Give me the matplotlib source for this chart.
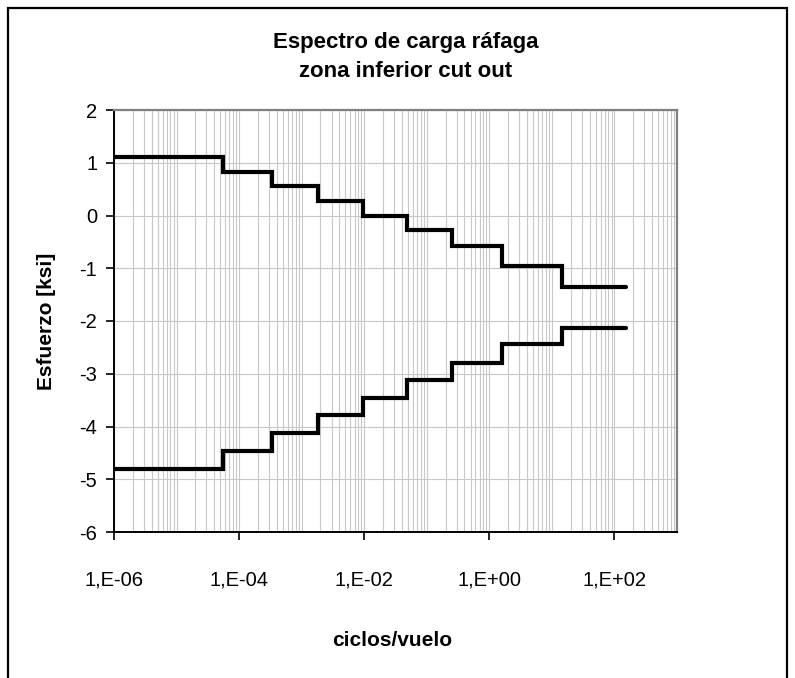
import numpy as np
import matplotlib
matplotlib.use("Agg")
import matplotlib.pyplot as plt
from matplotlib.patches import Rectangle
from matplotlib.ticker import FixedLocator, FuncFormatter

# step edges (ciclos/vuelo) shared by both curves
x_edges = [1e-6, 5.5e-5, 3.4e-4, 1.8e-3, 9.5e-3, 0.048, 0.256, 1.58, 14.4, 152]
# stress levels [ksi]
upper = [1.10, 0.83, 0.55, 0.28, 0.0, -0.27, -0.58, -0.96, -1.35]
lower = [-4.80, -4.47, -4.12, -3.78, -3.46, -3.12, -2.80, -2.43, -2.13]

x_ticks = [1e-6, 1e-4, 1e-2, 1e0, 1e2]
y_ticks = [2, 1, 0, -1, -2, -3, -4, -5, -6]

plt.rcParams["font.family"] = ["Liberation Sans", "DejaVu Sans"]

W, H = 795, 678
fig = plt.figure(figsize=(W / 100, H / 100), dpi=100)
ax = fig.add_axes([114 / W, 1 - 532 / H, (677 - 114) / W, (532 - 110) / H])

ax.set_xscale("log")
ax.set_xlim(1e-6, 1e3)
ax.set_ylim(-6, 2)

# gridlines: every decade plus 2..9 inside each one
grid_x = []
for d in range(-6, 3):
    for m in range(1, 10):
        grid_x.append(m * 10.0 ** d)
for gx in grid_x:
    ax.axvline(gx, color="#c8c8c8", lw=0.8, zorder=1)
for gy in y_ticks:
    ax.axhline(gy, color="#c8c8c8", lw=0.8, zorder=1)

for lev in (upper, lower):
    ax.step(x_edges, lev + [lev[-1]], where="post", color="black", lw=3.0,
            solid_capstyle="round", solid_joinstyle="miter", zorder=3)

ax.xaxis.set_major_locator(FixedLocator(x_ticks))
ax.xaxis.set_minor_locator(FixedLocator([]))
ax.xaxis.set_major_formatter(FuncFormatter(lambda v, p: "1,E%+03d" % int(round(np.log10(v)))))
ax.set_yticks(y_ticks)
ax.yaxis.set_major_formatter(FuncFormatter(lambda v, p: "%d" % v))
ax.tick_params(axis="both", direction="out", length=6, width=1.2, labelsize=14.5, color="black")
ax.tick_params(axis="x", pad=22)
ax.tick_params(axis="y", pad=6)

for s in ("left", "bottom"):
    ax.spines[s].set_color("black")
    ax.spines[s].set_linewidth(1.4)
for s in ("top", "right"):
    ax.spines[s].set_color("#808080")
    ax.spines[s].set_linewidth(1.6)

fig.text(406 / W, 1 - 57 / H, "Espectro de carga ráfaga\nzona inferior cut out",
         ha="center", va="center", fontsize=16, fontweight="bold", linespacing=1.45)
fig.text(47 / W, 1 - 321 / H, "Esfuerzo [ksi]", rotation=90, ha="center", va="center",
         fontsize=15, fontweight="bold")
fig.text(392 / W, 1 - 641 / H, "ciclos/vuelo", ha="center", va="center",
         fontsize=15, fontweight="bold")

fig.patches.append(Rectangle((8 / W, -0.05), 779 / W, 1.05 - 8 / H, transform=fig.transFigure,
                             fill=False, edgecolor="black", lw=1.6))

fig.savefig("out.png", dpi=100)
